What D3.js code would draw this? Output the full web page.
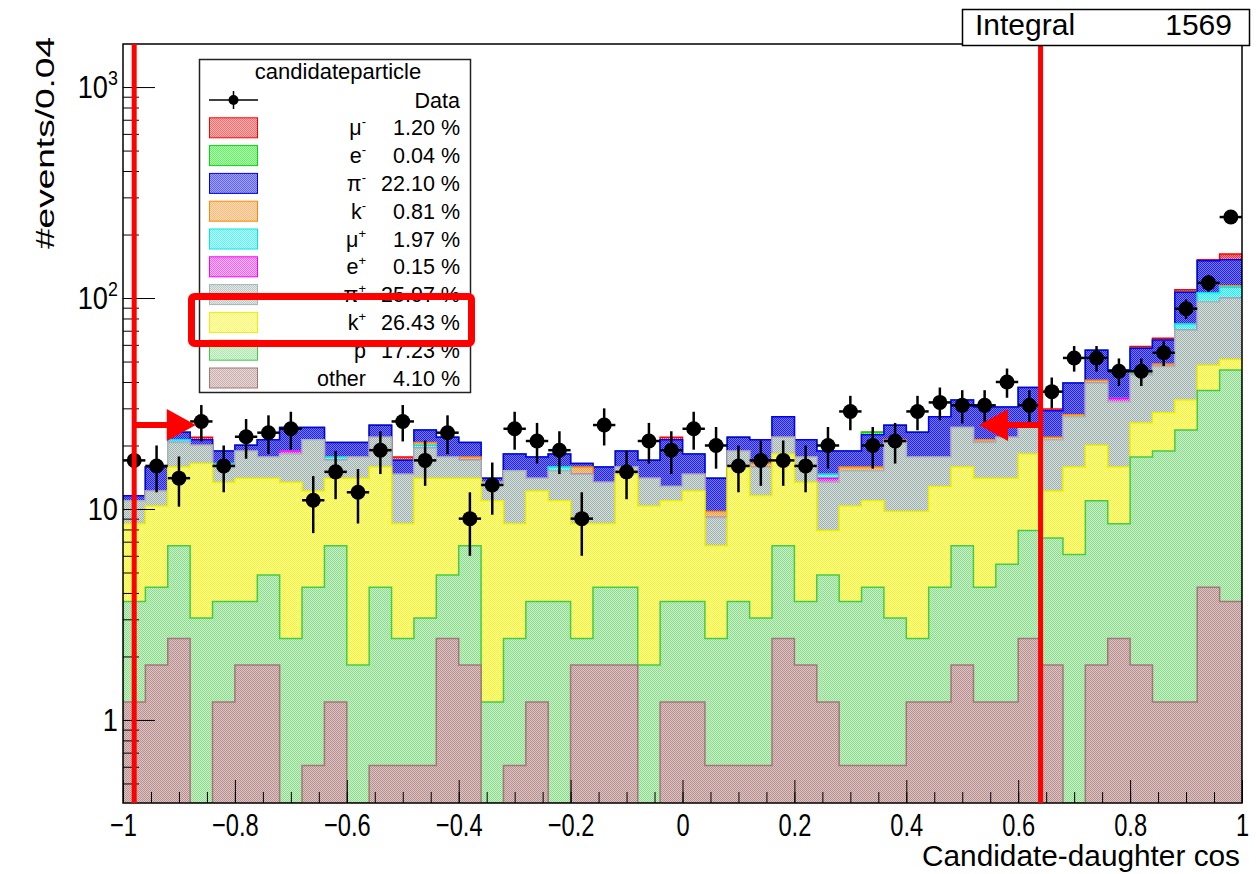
<!DOCTYPE html>
<html>
<head>
<meta charset="utf-8">
<script src="https://cdn.jsdelivr.net/npm/d3@7"></script>
<style>
body { margin: 0; background: #fff; }
text { font-family: "Liberation Sans", Arial, Helvetica, sans-serif; fill: #000; }
</style>
</head>
<body>
<svg id="chart" width="1257" height="874"></svg>
<script>
// binning: 50 bins of 0.04 from -1 to 1
const binLow = -1, binWidth = 0.04, nBins = 50;

// data entries per bin
const dataCounts = [17,16,14,26,16,22,23,24,11,15, 12,19,26,17,23,9,13,24,21,19,
  9,25,15,21,19,24,20,16,17,17, 16,20,29,20,21,29,32,31,31,40,
  31,36,52,52,45,45,55,89,118,242];

// MC entries per bin, normalised to data with mcScale
const mcScale = 0.608;
const muMinus = [0,0,0,1,0,0,0,0,0,0, 0,0,1,0,0,0,0,0,0,0, 0,0,0,0,1,0,0,0,0,0,
  0,0,0,0,0,0,0,0,0,0, 0,1,0,0,0,2,2,5,3,16];
const eMinus = [0,0,0,0,0,0,0,0,0,0, 0,0,0,0,0,0,0,0,0,0, 0,0,0,0,0,0,0,0,0,0,
  0,0,0,1,0,0,0,0,0,0, 0,0,0,0,0,0,0,0,0,0];
const piMinus = [1,6,3,2,4,2,6,9,5,5, 5,5,4,5,7,5,1,5,6,4, 1,4,5,5,14,6,7,5,8,9,
  6,7,5,11,6,9,16,14,15,14, 22,12,19,26,20,22,24,51,73,62];
const kMinus = [0,0,0,0,0,0,0,0,0,0, 0,0,0,1,0,1,0,0,0,0, 2,0,0,0,0,0,1,0,1,0,
  0,0,1,1,1,0,0,0,1,0, 0,1,1,2,0,1,2,0,0,3];
const muPlus = [0,0,1,0,1,0,0,0,0,1, 0,0,0,1,0,0,0,0,0,1, 0,0,0,0,0,0,0,0,0,0,
  0,1,0,0,0,0,0,0,0,0, 0,0,0,0,0,1,0,8,16,21];
const ePlus = [0,0,0,0,0,0,0,1,0,0, 0,0,0,0,0,0,0,0,0,0, 0,0,0,0,0,0,0,0,0,0,
  0,1,0,0,0,0,0,0,0,0, 0,0,0,0,2,0,0,0,0,0];
const piPlus = [4,3,8,6,4,8,6,8,15,5, 6,10,10,9,6,5,4,11,3,7, 10,8,2,6,3,4,4,5,7,6,
  7,9,8,7,18,13,8,14,11,13, 10,15,19,32,27,29,31,62,79,80];
const kPlus = [8,10,15,22,16,17,15,18,13,12, 20,19,10,18,15,12,16,10,14,12,
  10,7,17,14,12,14,7,20,14,19, 16,5,11,11,11,12,14,15,16,14,
  17,8,16,15,12,13,16,15,19,9];
const proton = [4,4,7,5,4,3,5,4,6,9, 3,6,3,4,4,8,2,3,4,6, 1,4,4,3,4,4,3,5,4,7,
  3,6,5,6,4,2,5,8,5,7, 9,9,10,15,10,26,29,37,53,69];
const other = [2,3,4,0,2,3,3,0,1,2, 0,1,1,1,4,3,0,1,2,0, 3,3,3,0,2,2,1,1,1,4,
  3,2,1,1,1,2,2,3,2,2, 4,3,0,3,4,3,2,2,7,6];

// legend (top to bottom), same order as seriesCounts
const legendTitle = "candidateparticle";
const legendSymbols = ["μ","e","π","k","μ","e","π","k","p","other"];
const legendCharges = ["-","-","-","-","+","+","+","+","",""];
const legendPercents = ["1.20 %","0.04 %","22.10 %","0.81 %","1.97 %","0.15 %","25.97 %","26.43 %","17.23 %","4.10 %"];
const seriesCounts = [muMinus, eMinus, piMinus, kMinus, muPlus, ePlus, piPlus, kPlus, proton, other];
const highlighted = "k+";

// axes
const xTickValues = [-1,-0.8,-0.6,-0.4,-0.2,0,0.2,0.4,0.6,0.8,1];
const xTickLabels = ["\u22121","\u22120.8","\u22120.6","\u22120.4","\u22120.2","0","0.2","0.4","0.6","0.8","1"];
const yTickValues = [1,10,100,1000];
const yTickBase = ["1","10","10","10"];
const yTickExp = ["","","2","3"];
const yRange = [0.404, 1600];

// selection cuts and arrows
const cutValues = [-0.98, 0.64];
const arrowTips = [-0.87, 0.53];
const arrowLevel = 25;
const integralText = ["Integral", "1569"];

// styles: line colour, fill colour pair (pattern)
const styles = [
  {line:"#ff0000", c1:"#ff2a2a", c2:"#ff9a9a"},
  {line:"#00dd00", c1:"#22ee22", c2:"#99ff99"},
  {line:"#0000ff", c1:"#2222ee", c2:"#7b7bff"},
  {line:"#ff8800", c1:"#ff9a3a", c2:"#ffd0a0"},
  {line:"#00e5e5", c1:"#22eeee", c2:"#a0ffff"},
  {line:"#ff00ff", c1:"#ee22ee", c2:"#ffa0ff"},
  {line:"#a6b6b4", c1:"#9fb0ad", c2:"#d6e0dc"},
  {line:"#eeee00", c1:"#f5f52a", c2:"#ffffa8"},
  {line:"#44cc44", c1:"#8fdc8f", c2:"#c8f0c8"},
  {line:"#a07878", c1:"#b89090", c2:"#dcc4c4"}
];

const svg = d3.select("#chart");
const plotL = 123, plotR = 1242, plotT = 44, plotB = 803;
const x = d3.scaleLinear().domain([-1, 1]).range([plotL, plotR]);
const y = d3.scaleLog().domain(yRange).range([plotB, plotT]);
const yc = v => y(Math.max(v, yRange[0]));

const defs = svg.append("defs");
styles.forEach((s, i) => {
  const p = defs.append("pattern").attr("id", "pat" + i)
    .attr("width", 2).attr("height", 2).attr("patternUnits", "userSpaceOnUse");
  p.append("rect").attr("width", 2).attr("height", 2).attr("fill", s.c1);
  p.append("rect").attr("x", 1).attr("width", 1).attr("height", 1).attr("fill", s.c2);
  p.append("rect").attr("y", 1).attr("width", 1).attr("height", 1).attr("fill", s.c2);
});
defs.append("clipPath").attr("id", "plotclip").append("rect")
  .attr("x", plotL).attr("y", plotT).attr("width", plotR - plotL).attr("height", plotB - plotT);

// stack: bottom is "other", top is mu-
const edges = d3.range(nBins + 1).map(i => binLow + i * binWidth);
let running = new Array(nBins).fill(0);
const cumul = [];
for (let s = seriesCounts.length - 1; s >= 0; s--) {
  running = running.map((v, i) => v + seriesCounts[s][i] * mcScale);
  cumul[s] = running.slice();
}

const plot = svg.append("g").attr("clip-path", "url(#plotclip)");
const area = d3.area().curve(d3.curveStepAfter)
  .x(d => x(d.x)).y0(plotB + 2).y1(d => yc(d.v));

// draw the tallest sum first, lower sums on top
cumul.forEach((vals, s) => {
  const pts = edges.map((e, i) => ({x: e, v: vals[Math.min(i, nBins - 1)]}));
  plot.append("path").datum(pts)
    .attr("d", area)
    .attr("fill", "url(#pat" + s + ")")
    .attr("stroke", styles[s].line)
    .attr("stroke-width", 1.5);
});

// data points with errors
const dg = plot.append("g");
dataCounts.forEach((n, i) => {
  const cx = x(binLow + (i + 0.5) * binWidth), cy = y(n), e = Math.sqrt(n);
  dg.append("line").attr("x1", cx).attr("x2", cx)
    .attr("y1", y(n + e)).attr("y2", yc(n - e))
    .attr("stroke", "#000").attr("stroke-width", 2.5);
  dg.append("line").attr("x1", x(edges[i])).attr("x2", x(edges[i + 1]))
    .attr("y1", cy).attr("y2", cy)
    .attr("stroke", "#000").attr("stroke-width", 2.5);
  dg.append("circle").attr("cx", cx).attr("cy", cy).attr("r", 7.5).attr("fill", "#000");
});

// axes
const xMinor = d3.range(41).map(i => -1 + i * 0.05);
svg.append("g").attr("transform", `translate(0,${plotB})`)
  .call(d3.axisBottom(x).tickValues(xMinor).tickSize(-11).tickFormat(""))
  .call(g => g.select(".domain").remove());
const xAx = svg.append("g").attr("transform", `translate(0,${plotB})`)
  .call(d3.axisBottom(x).tickValues(xTickValues).tickSize(-23).tickPadding(10)
    .tickFormat((d, i) => xTickLabels[i]));
xAx.select(".domain").remove();
xAx.selectAll("text").attr("font-size", 32).attr("transform", "scale(0.74,1)")
  .style("font-family", "Liberation Sans, Arial, sans-serif");

const yMinor = [];
[0.1, 1, 10, 100].forEach(dec => d3.range(2, 10).forEach(k => {
  const v = dec * k;
  if (v > yRange[0] && v < yRange[1]) yMinor.push(v);
}));
svg.append("g").attr("transform", `translate(${plotL},0)`)
  .call(d3.axisLeft(y).tickValues(yMinor).tickSize(-16).tickFormat(""))
  .call(g => g.select(".domain").remove());
const yAx = svg.append("g").attr("transform", `translate(${plotL},0)`)
  .call(d3.axisLeft(y).tickValues(yTickValues).tickSize(-32).tickPadding(6).tickFormat(""));
yAx.select(".domain").remove();
yAx.selectAll(".tick text").each(function(d, i) {
  const t = d3.select(this).attr("font-size", 32).attr("transform", "scale(0.85,1)")
    .style("font-family", "Liberation Sans, Arial, sans-serif");
  t.text(null);
  t.append("tspan").text(yTickBase[i]);
  if (yTickExp[i]) t.append("tspan").attr("font-size", 21).attr("dy", -13).text(yTickExp[i]);
});

svg.selectAll(".tick line").attr("stroke", "#000");

// frame
svg.append("rect").attr("x", plotL).attr("y", plotT)
  .attr("width", plotR - plotL).attr("height", plotB - plotT)
  .attr("fill", "none").attr("stroke", "#000").attr("stroke-width", 1.5);

// axis titles
svg.append("text").attr("x", 1240).attr("y", 866).attr("text-anchor", "end")
  .attr("font-size", 30).attr("textLength", 318).attr("lengthAdjust", "spacingAndGlyphs")
  .text("Candidate-daughter cos");
svg.append("text").attr("transform", "translate(54,37) rotate(-90)")
  .attr("text-anchor", "end").attr("font-size", 25)
  .attr("textLength", 212).attr("lengthAdjust", "spacingAndGlyphs")
  .text("#events/0.04");

// cut lines and arrows
const red = "#ff0000";
cutValues.forEach((c, i) => {
  svg.append("line").attr("x1", x(c)).attr("x2", x(c))
    .attr("y1", y(yRange[0])).attr("y2", y(yRange[1]))
    .attr("stroke", red).attr("stroke-width", 5);
  const tip = x(arrowTips[i]), ay = y(arrowLevel);
  const dir = Math.sign(tip - x(c));
  svg.append("line").attr("x1", x(c)).attr("x2", tip - dir * 20)
    .attr("y1", ay).attr("y2", ay).attr("stroke", red).attr("stroke-width", 6);
  svg.append("path")
    .attr("d", `M${tip},${ay} L${tip - dir * 29},${ay - 16} L${tip - dir * 29},${ay + 16} Z`)
    .attr("fill", red);
});

// legend
const lg = svg.append("g");
const lgL = 199.5, lgT = 59.5, lgW = 271, lgH = 333;
const rowY = i => 100 + 27.8 * i;
lg.append("rect").attr("x", lgL).attr("y", lgT).attr("width", lgW).attr("height", lgH)
  .attr("fill", "#fff").attr("stroke", "#222").attr("stroke-width", 1.5);
lg.append("text").attr("x", lgL + lgW / 2 + 3).attr("y", 79).attr("text-anchor", "middle")
  .attr("font-size", 22).text(legendTitle);
// data entry
lg.append("line").attr("x1", 209).attr("x2", 258).attr("y1", rowY(0)).attr("y2", rowY(0))
  .attr("stroke", "#000").attr("stroke-width", 1.5);
lg.append("line").attr("x1", 233.5).attr("x2", 233.5).attr("y1", rowY(0) - 9).attr("y2", rowY(0) + 9)
  .attr("stroke", "#000").attr("stroke-width", 1.5);
lg.append("circle").attr("cx", 233.5).attr("cy", rowY(0)).attr("r", 5).attr("fill", "#000");
lg.append("text").attr("x", 460).attr("y", rowY(0) + 7.5).attr("text-anchor", "end")
  .attr("font-size", 21.5).text("Data");

legendSymbols.forEach((sym, k) => {
  const ry = rowY(k + 1);
  lg.append("rect").attr("x", 209.5).attr("y", ry - 10).attr("width", 48).attr("height", 20)
    .attr("fill", "url(#pat" + k + ")").attr("stroke", styles[k].line).attr("stroke-width", 1)
    .attr("fill-opacity", 0.7);
  const t = lg.append("text").attr("x", 366).attr("y", ry + 7.5).attr("text-anchor", "end")
    .attr("font-size", 21.5);
  t.append("tspan").text(sym);
  if (legendCharges[k]) t.append("tspan").attr("font-size", 13).attr("dy", -9).text(legendCharges[k]);
  lg.append("text").attr("x", 460).attr("y", ry + 7.5).attr("text-anchor", "end")
    .attr("font-size", 21.5).text(legendPercents[k]);
});

// highlight box around the k+ entry
const hk = legendSymbols.findIndex((s, k) => s + legendCharges[k] === highlighted) + 1;
svg.append("rect").attr("x", 191.5).attr("y", rowY(hk) - 26).attr("width", 280).attr("height", 47)
  .attr("rx", 3).attr("fill", "none").attr("stroke", red).attr("stroke-width", 7);

// integral box
const ib = svg.append("g");
ib.append("rect").attr("x", 962.5).attr("y", 9.5).attr("width", 287).attr("height", 36)
  .attr("fill", "#fff").attr("stroke", "#000").attr("stroke-width", 1.5);
ib.append("text").attr("x", 975).attr("y", 35).attr("font-size", 30).text(integralText[0]);
ib.append("text").attr("x", 1232).attr("y", 35).attr("text-anchor", "end")
  .attr("font-size", 30).text(integralText[1]);
</script>
</body>
</html>
